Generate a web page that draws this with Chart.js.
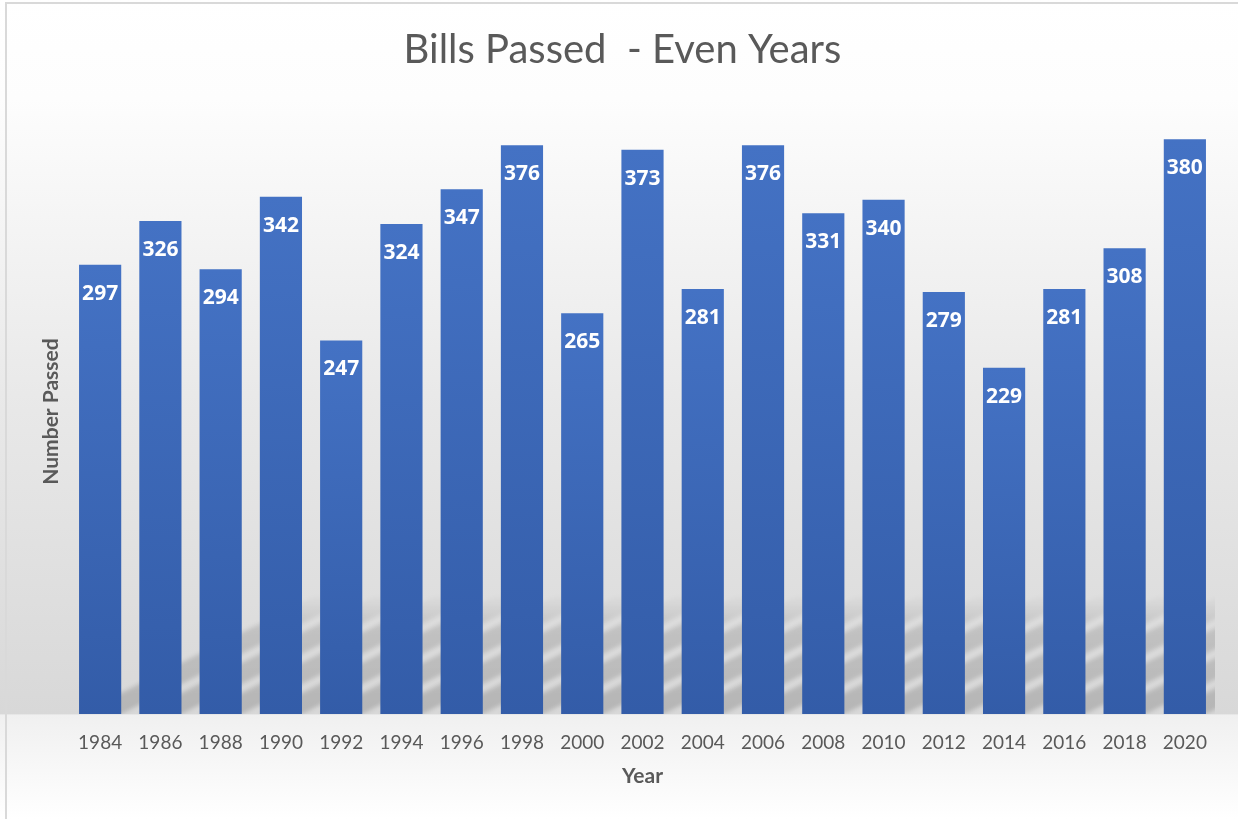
<!DOCTYPE html>
<html>
<head>
<meta charset="utf-8">
<script src="https://cdn.jsdelivr.net/npm/chart.js@4.4.0/dist/chart.umd.min.js"></script>
<style>
    html, body { margin: 0; padding: 0; background: #ffffff; }
    #wrap { width: 1238px; height: 819px; position: relative; }
</style>
</head>
<body>
<div id="wrap"><canvas id="billsChart"></canvas></div>
<script>
const years = ['1984', '1986', '1988', '1990', '1992', '1994', '1996', '1998', '2000', '2002',
               '2004', '2006', '2008', '2010', '2012', '2014', '2016', '2018', '2020'];
const billsPassed = [297, 326, 294, 342, 247, 324, 347, 376, 265, 373,
                     281, 376, 331, 340, 279, 229, 281, 308, 380];
const yMax = 400;

// chart background: white top fading to grey at the axis, light again below
const backgroundPlugin = {
    id: 'bgFill',
    beforeDraw(chart) {
        const ctx = chart.ctx;
        const area = chart.chartArea;
        const h = chart.height;
        const g = ctx.createLinearGradient(0, 0, 0, h);
        const stop = area.bottom / h;
        g.addColorStop(0, '#ffffff');
        g.addColorStop(0.12, '#fdfdfd');
        g.addColorStop(stop * 0.55, '#e9e9e9');
        g.addColorStop(stop, '#d8d8d8');
        g.addColorStop(Math.min(stop + 0.001, 1), '#f0f0f0');
        g.addColorStop(1, '#ffffff');
        ctx.save();
        ctx.fillStyle = g;
        ctx.fillRect(0, 0, chart.width, h);
        ctx.strokeStyle = '#d9d9d9';
        ctx.lineWidth = 2;
        ctx.beginPath();
        ctx.moveTo(6, h);
        ctx.lineTo(6, 3);
        ctx.lineTo(chart.width, 3);
        ctx.stroke();
        ctx.restore();
    }
};

// slanted soft shadows behind the bar bases
const shadowPlugin = {
    id: 'barShadows',
    beforeDatasetsDraw(chart) {
        const ctx = chart.ctx;
        const area = chart.chartArea;
        const meta = chart.getDatasetMeta(0);
        const base = area.bottom;
        const rise = 120;
        const shear = 2;
        ctx.save();
        ctx.beginPath();
        ctx.rect(area.left, area.top, area.right - area.left, area.bottom - area.top);
        ctx.clip();
        ctx.filter = 'blur(2px)';
        const g = ctx.createLinearGradient(0, base, 0, base - rise);
        g.addColorStop(0, 'rgba(0,0,0,0.16)');
        g.addColorStop(0.7, 'rgba(0,0,0,0.12)');
        g.addColorStop(1, 'rgba(0,0,0,0)');
        ctx.fillStyle = g;
        ctx.beginPath();
        meta.data.forEach(bar => {
            const l = bar.x - bar.width / 2;
            const r = bar.x + bar.width / 2;
            const hgt = Math.min(rise, base - bar.y);
            ctx.moveTo(l, base);
            ctx.lineTo(r, base);
            ctx.lineTo(r + shear * hgt, base - hgt);
            ctx.lineTo(l + shear * hgt, base - hgt);
            ctx.closePath();
        });
        ctx.fill('nonzero');
        ctx.restore();
    }
};

// white bold value just inside the top of each bar
const barLabelPlugin = {
    id: 'barLabels',
    afterDatasetsDraw(chart) {
        const ctx = chart.ctx;
        const meta = chart.getDatasetMeta(0);
        ctx.save();
        ctx.fillStyle = '#ffffff';
        ctx.font = 'bold 21px "Open Sans", sans-serif';
        ctx.textAlign = 'center';
        ctx.textBaseline = 'middle';
        meta.data.forEach((bar, i) => {
            ctx.fillText(String(billsPassed[i]), bar.x, bar.y + 29);
        });
        ctx.restore();
    }
};

function barGradient(context) {
    const chart = context.chart;
    if (!chart.chartArea || context.parsed === undefined) return '#4472c4';
    const yScale = chart.scales.y;
    const top = yScale.getPixelForValue(context.parsed.y);
    const base = yScale.getPixelForValue(0);
    const g = chart.ctx.createLinearGradient(0, top, 0, base);
    g.addColorStop(0, '#4472c4');
    g.addColorStop(1, '#335ca8');
    return g;
}

new Chart(document.getElementById('billsChart'), {
    type: 'bar',
    data: {
        labels: years,
        datasets: [{
            label: 'Number Passed',
            data: billsPassed,
            backgroundColor: barGradient,
            borderWidth: 0,
            categoryPercentage: 1,
            barPercentage: 0.7
        }]
    },
    options: {
        responsive: true,
        maintainAspectRatio: false,
        animation: false,
        layout: {
            padding: { top: 26, right: 23, bottom: 26, left: 30 }
        },
        plugins: {
            legend: { display: false },
            tooltip: { enabled: false },
            title: {
                display: true,
                text: 'Bills Passed  - Even Years',
                color: '#595959',
                font: { family: 'Lato', size: 40, weight: 'normal' },
                padding: { top: 0, bottom: 35 }
            }
        },
        scales: {
            x: {
                grid: { display: false, drawTicks: false },
                border: { display: false },
                ticks: {
                    color: '#595959',
                    font: { family: 'Lato', size: 19 },
                    padding: 17,
                    maxRotation: 0,
                    minRotation: 0
                },
                title: {
                    display: true,
                    text: 'Year',
                    color: '#595959',
                    font: { family: 'Lato', size: 21, weight: 'bold' },
                    padding: { top: 0, bottom: 4 }
                },
                afterFit(scale) { scale.height = 79; }
            },
            y: {
                min: 0,
                max: yMax,
                grid: { display: false, drawTicks: false },
                border: { display: false },
                ticks: { display: false },
                title: {
                    display: true,
                    text: 'Number Passed',
                    color: '#595959',
                    font: { family: 'Lato', size: 21, weight: 'bold' },
                    padding: { top: 9, bottom: 0 }
                },
                afterFit(scale) { scale.width = 40; }
            }
        }
    },
    plugins: [backgroundPlugin, shadowPlugin, barLabelPlugin]
});
</script>
</body>
</html>
